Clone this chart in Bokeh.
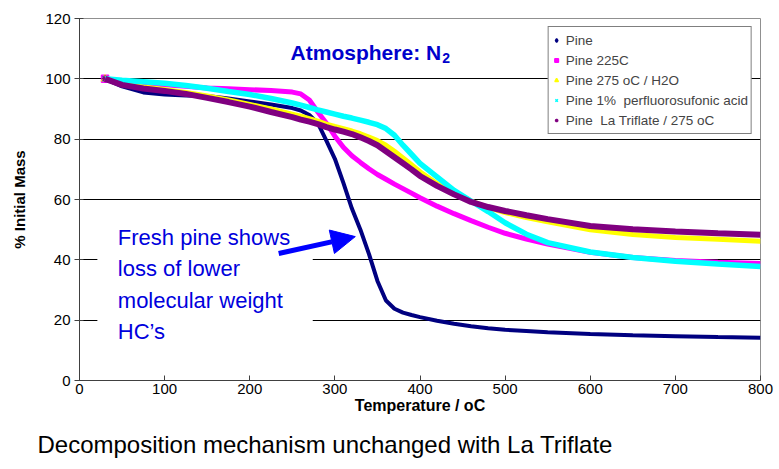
from bokeh.plotting import figure
from bokeh.models import (Range1d, FixedTicker, Legend, LegendItem, Label, Arrow,
                          NormalHead, BoxAnnotation, Title)
from bokeh.embed import file_html
from bokeh.resources import INLINE

temperature = [30, 50, 75, 100, 125, 150, 175, 200, 225, 250, 260, 270, 280, 290, 300,
               310, 320, 330, 340, 350, 360, 370, 380, 390, 400, 420, 440, 460, 480,
               500, 525, 550, 600, 650, 700, 750, 800]

pine = [100, 97.5, 95.5, 94.8, 94.5, 94.3, 93.5, 92.5, 91.5, 90.3, 89.5, 88, 85.3, 79.5, 73.5,
        65.5, 57, 50, 42, 33, 26.5, 23.8, 22.5, 21.7, 21, 19.8, 18.8, 18, 17.3,
        16.8, 16.4, 16, 15.4, 15, 14.7, 14.4, 14.2]
pine_225 = [100, 99, 98.5, 98, 97.5, 97, 96.7, 96.4, 96.1, 95.6, 95, 93, 89, 85.3, 81,
            77.3, 74.5, 72.3, 70.2, 68.3, 66.7, 65.1, 63.6, 62.1, 60.6, 57.8, 55.3, 53, 50.8,
            48.8, 46.9, 45.2, 42.5, 40.8, 39.8, 39.2, 38.8]
pine_275_h2o = [100, 98.5, 97.3, 96.5, 95.5, 94.3, 93, 91.5, 90, 88.3, 87.6, 86.8, 86, 85, 84.2,
                83.5, 82.7, 81.8, 80.7, 79.5, 78, 76, 73.8, 71.5, 69.2, 65.3, 62.2, 59.5, 57.3,
                55.7, 54, 52.6, 50, 48.4, 47.4, 46.8, 46.2]
pine_pfsa = [100, 99.5, 99, 98.5, 97.8, 96.9, 95.8, 94.8, 93.5, 92, 91.3, 90.5, 89.7, 89, 88.3,
             87.6, 87, 86.3, 85.6, 84.8, 83.5, 81.3, 78, 75, 72, 67.5, 63, 59.5, 56,
             52.3, 48.5, 45.7, 42.6, 40.8, 39.5, 38.6, 37.8]
pine_la = [100, 98, 96.8, 96, 95, 93.7, 92.3, 90.8, 89, 87.3, 86.5, 85.8, 85, 84, 83.2,
           82.5, 81.7, 80.6, 79.4, 78, 76, 74, 72, 70, 67.8, 64.5, 61.7, 59.2, 57.5,
           56.2, 54.8, 53.5, 51.2, 50.1, 49.4, 48.8, 48.3]

series_names = ["Pine", "Pine 225C", "Pine 275 oC / H2O",
                "Pine 1%  perfluorosufonic acid", "Pine  La Triflate / 275 oC"]
series_values = [pine, pine_225, pine_275_h2o, pine_pfsa, pine_la]
series_colors = ["#000080", "#FF00FF", "#FFFF00", "#00FFFF", "#800080"]
series_markers = ["diamond", "square", "triangle", "x", "asterisk"]
series_widths = [4, 5, 5, 5.5, 6]

x_ticks = [0, 100, 200, 300, 400, 500, 600, 700, 800]
y_ticks = [0, 20, 40, 60, 80, 100, 120]

p = figure(width=779, height=469, output_backend="svg", toolbar_location=None,
           x_range=Range1d(0, 800), y_range=Range1d(0, 120))
p.min_border_left = 79
p.min_border_right = 19
p.min_border_top = 18
p.min_border_bottom = 89
p.background_fill_color = "white"
p.border_fill_color = "white"
p.outline_line_color = "#909090"
p.outline_line_width = 1

p.xgrid.grid_line_color = None
p.ygrid.grid_line_color = "#000000"
p.ygrid.grid_line_width = 1

p.xaxis.ticker = FixedTicker(ticks=x_ticks)
p.yaxis.ticker = FixedTicker(ticks=y_ticks)
for ax in (p.xaxis, p.yaxis):
    ax.axis_line_color = "#404040"
    ax.major_tick_line_color = "#404040"
    ax.minor_tick_line_color = None
    ax.major_label_text_font = "Liberation Sans"
    ax.major_label_text_font_size = "15px"
    ax.major_label_text_color = "#000000"
    ax.axis_label_text_font = "Liberation Sans"
    ax.axis_label_text_font_style = "bold"
    ax.axis_label_text_color = "#000000"
p.xaxis.axis_label_text_font_size = "16px"
p.yaxis.axis_label_text_font_size = "15px"
p.xaxis.major_tick_in = 5
p.xaxis.major_tick_out = 0
p.xaxis.major_label_standoff = 3
p.xaxis.axis_label = "Temperature / oC"
p.xaxis.axis_label_standoff = 0
p.yaxis.major_tick_in = 4
p.yaxis.major_tick_out = 5
p.yaxis.major_label_standoff = 4
p.yaxis.axis_label = "% Initial Mass"
p.yaxis.axis_label_standoff = 14

# white block behind the annotation text (hides grid lines)
p.add_layout(BoxAnnotation(left=21, right=274, bottom=12, top=58,
                           fill_color="white", fill_alpha=1.0, line_alpha=0,
                           level="underlay"))

items = []
marker_renderers = []
for name, vals, col, mk in zip(series_names, series_values, series_colors, series_markers):
    r = p.scatter(x=temperature[:1], y=vals[:1], marker=mk, size=7, fill_color=col,
                  line_color=col, line_width=1.5)
    marker_renderers.append(r)
for name, vals, col, lw, r in zip(series_names, series_values, series_colors,
                                  series_widths, marker_renderers):
    p.line(temperature, vals, line_color=col, line_width=lw)
    items.append(LegendItem(label=name, renderers=[r]))

legend = Legend(items=items, location="top_right", margin=8, padding=3, spacing=0,
                glyph_width=9, glyph_height=20, label_height=20, label_standoff=5,
                label_text_font="Liberation Sans", label_text_font_size="13.5px",
                border_line_color="#000000", border_line_width=1,
                background_fill_color="white", background_fill_alpha=1.0)
p.add_layout(legend)

blue = "#0000CC"
p.add_layout(Label(x=248, y=108.7, text="Atmosphere: N", text_color=blue,
                   text_font="Liberation Sans", text_font_style="bold",
                   text_font_size="21px", text_baseline="alphabetic"))
p.add_layout(Label(x=426, y=106.8, text="2", text_color=blue,
                   text_font="Liberation Sans", text_font_style="bold",
                   text_font_size="14px", text_baseline="alphabetic"))

note_lines = ["Fresh pine shows", "loss of lower", "molecular weight", "HC\u2019s"]
note_y = [47.4, 37.1, 26.5, 16.2]
for t, yy in zip(note_lines, note_y):
    p.add_layout(Label(x=45, y=yy, text=t, text_color="#0000DD",
                       text_font="Liberation Sans", text_font_size="22px",
                       text_baseline="alphabetic"))

p.add_layout(Arrow(end=NormalHead(size=24, fill_color="#0000FF", line_color="#0000FF"),
                   x_start=234, y_start=42.1, x_end=324, y_end=47.7,
                   line_color="#0000FF", line_width=5))

caption = Title(text="Decomposition mechanism unchanged with La Triflate",
                text_color="#000000", text_font="Liberation Sans",
                text_font_size="24px", text_font_style="normal",
                align="left", offset=-42, standoff=24)
p.add_layout(caption, "below")

open("out.html", "w").write(file_html(p, INLINE))
